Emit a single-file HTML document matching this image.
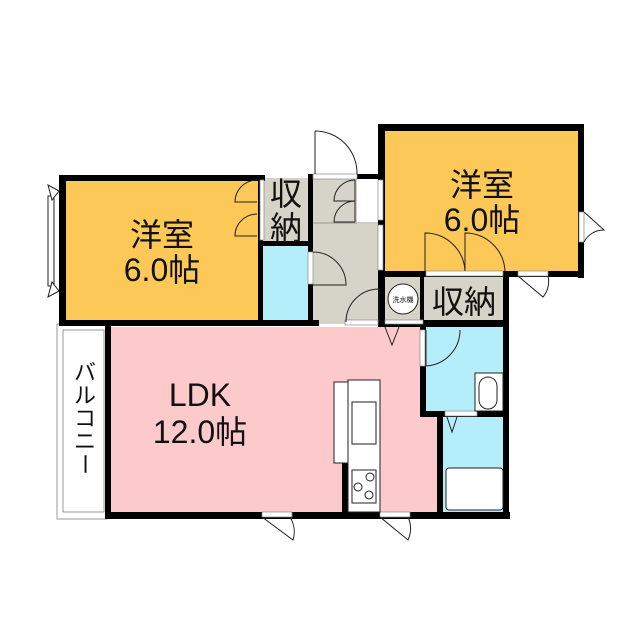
<!DOCTYPE html>
<html><head><meta charset="utf-8"><style>
html,body{margin:0;padding:0;background:#fff;}
svg{display:block;}
text{font-family:"Liberation Sans","Noto Sans CJK JP",sans-serif;fill:#111;}
</style></head><body>
<svg width="640" height="640" viewBox="0 0 640 640" xmlns="http://www.w3.org/2000/svg">
<rect x="62" y="178" width="200" height="146" fill="#fcc857"/>
<rect x="381" y="128" width="200" height="146" fill="#fcc857"/>
<path d="M110 327 H424 V415 H441 V515 H110 Z" fill="#fdcacb"/>
<rect x="262" y="178" width="50" height="68" fill="#d6d3c8"/>
<rect x="262" y="246" width="50" height="78" fill="#b5eefb"/>
<rect x="312" y="178" width="68" height="146" fill="#d6d3c8"/>
<rect x="357" y="178" width="23" height="46" fill="#fff"/>
<line x1="312" y1="223" x2="380" y2="223" stroke="#999" stroke-width="1"/>
<rect x="383" y="276" width="40" height="48" fill="#d6d3c8"/>
<rect x="423" y="276" width="82" height="48" fill="#d6d3c8"/>
<rect x="424" y="327" width="81" height="88" fill="#b5eefb"/>
<rect x="441" y="415" width="64" height="100" fill="#b5eefb"/>
<rect x="57" y="324" width="50" height="195" fill="#fff" stroke="#999" stroke-width="1"/>
<rect x="63" y="330" width="41" height="182" fill="#fff" stroke="#999" stroke-width="1"/>
<g fill="#000">
<rect x="59" y="175" width="206" height="6"/>
<rect x="59" y="175" width="7" height="151"/>
<rect x="258" y="175" width="5" height="150"/>
<rect x="59" y="320" width="260" height="6"/>
<rect x="105" y="320" width="6" height="199"/>
<rect x="105" y="512" width="405" height="7"/>
<rect x="378" y="124" width="206" height="7"/>
<rect x="378" y="124" width="7" height="200"/>
<rect x="578" y="124" width="6" height="154"/>
<rect x="378" y="271" width="206" height="6"/>
<rect x="308" y="175" width="5" height="150"/>
<rect x="308" y="174" width="75" height="5"/>
<rect x="262" y="241" width="50" height="5"/>
<rect x="378" y="320" width="130" height="7"/>
<rect x="420" y="276" width="4" height="48"/>
<rect x="503" y="271" width="6" height="248"/>
<rect x="420" y="320" width="6" height="97"/>
<rect x="420" y="411" width="88" height="6"/>
<rect x="437" y="411" width="6" height="108"/>
<rect x="342" y="463" width="6" height="52"/>
</g>
<g fill="#fff" stroke="#888" stroke-width="0.7">
<rect x="313" y="174" width="44" height="5"/>
<rect x="345" y="320" width="33" height="5"/>
<rect x="385" y="320" width="38" height="4"/>
<rect x="426" y="271" width="77" height="5"/>
<rect x="262" y="512" width="30" height="5"/>
<rect x="380" y="512" width="30" height="5"/>
<rect x="518" y="271" width="30" height="5"/>
<rect x="579" y="212" width="5" height="30"/>
<rect x="445" y="411" width="32" height="5"/>
<rect x="420" y="330" width="5" height="36"/>
<rect x="308" y="252" width="5" height="32"/>
<rect x="378" y="180" width="5" height="40"/>
<rect x="378" y="225" width="5" height="45"/>
<rect x="260" y="180" width="4" height="60"/>
</g>
<g fill="none" stroke="#222" stroke-width="1">
<path d="M315 131 V174 M315 131 A42 42 0 0 1 357 174"/>
<path d="M355 180 V222 M355 180 A21 21 0 0 0 334 201 H355 M355 201 A21 21 0 0 0 334 222 H355"/>
<path d="M313 252 A33 33 0 0 1 346 285 H313"/>
<path d="M346 322 A33 33 0 0 1 379 289 V322"/>
<path d="M257 180 A22 22 0 0 0 235 202 H257 M257 214 A22 22 0 0 0 235 236 H257"/>
<path d="M425 271 V233 A40 40 0 0 1 465 271 M505 271 A40 40 0 0 0 465 233 V271"/>
<path d="M426 330 V366 A36 36 0 0 0 460 330"/>
<path d="M262 517 L293 540 A28 28 0 0 0 290 517"/>
<path d="M380 517 L408 540 A28 28 0 0 0 408 517"/>
<path d="M518 276 L543 297 A24 24 0 0 0 548 276"/>
<path d="M584 212 L604 230 A22 22 0 0 0 584 242"/>
<path d="M385 327 L392 345 L399 327"/>
<path d="M447 417 L452 432 L457 417"/>
</g>
<g fill="#fff" stroke="#222" stroke-width="1">
<rect x="48" y="196" width="6" height="90"/>
<path d="M59 191 L48 185 L52 200 Z M59 291 L48 297 L52 282 Z"/>
</g>
<g fill="#fff" stroke="#222" stroke-width="1">
<circle cx="403" cy="299" r="15"/>
<rect x="348" y="380" width="32" height="132"/>
<rect x="352" y="402" width="24" height="42"/>
<rect x="352" y="470" width="24" height="33"/>
<circle cx="370" cy="477" r="4"/><circle cx="358" cy="487" r="4"/><circle cx="369" cy="495" r="4"/>
<rect x="334" y="382" width="14" height="81"/>
<rect x="475" y="373" width="28" height="38"/>
<rect x="479" y="377" width="18" height="32" rx="9"/>
<rect x="446" y="468" width="57" height="42" rx="3"/>
</g>
<text x="403" y="302" font-size="7" text-anchor="middle">洗水機</text>
<g font-size="32" text-anchor="middle">
<text x="162" y="246">洋室</text>
<text x="162" y="281">6.0帖</text>
<text x="482" y="196">洋室</text>
<text x="482" y="231">6.0帖</text>
<text x="200" y="406">LDK</text>
<text x="200" y="443">12.0帖</text>
<text x="464" y="313">収納</text>
<text x="286" y="205">収</text>
<text x="286" y="239">納</text>
</g>
<g font-size="22" text-anchor="middle">
<text x="85" y="380">バ</text>
<text x="85" y="403">ル</text>
<text x="85" y="426">コ</text>
<text x="85" y="449">ニ</text>
</g>
<text x="85" y="472" font-size="22" text-anchor="middle" transform="rotate(90 85 464)">ー</text>
</svg>
</body></html>
